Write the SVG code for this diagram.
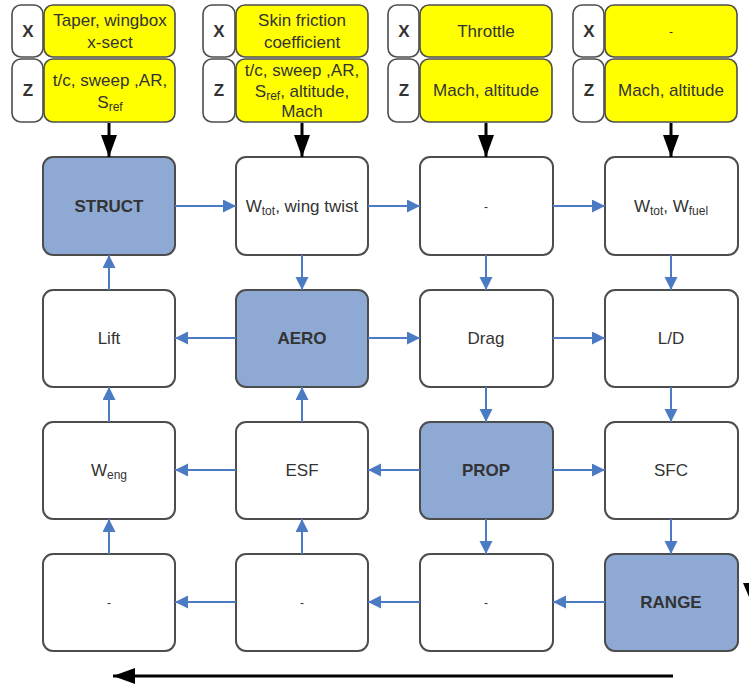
<svg xmlns="http://www.w3.org/2000/svg" width="749" height="686" viewBox="0 0 749 686">
  <style>
    .lbl { fill: #ffffff; stroke: #4d4d4d; stroke-width: 1.6; }
    .inp { fill: #ffff00; stroke: #4d4d4d; stroke-width: 1.6; }
    .blk { fill: #ffffff; stroke: #4d4d4d; stroke-width: 2; }
    .disc { fill: #8eaad4; stroke: #4d4d4d; stroke-width: 2; }
    text { font-family: "Liberation Sans", Arial, Helvetica, sans-serif; font-size: 17px; fill: #333333; text-anchor: middle; }
    .b { font-weight: bold; }
    .sm { font-size: 12px; }
    .cn { stroke: #4b7bc3; stroke-width: 2; fill: none; marker-end: url(#bh); }
    .kn { stroke: #000000; stroke-width: 3; fill: none; marker-end: url(#kh); }
  </style>
  <defs>
    <marker id="bh" markerUnits="userSpaceOnUse" markerWidth="14" markerHeight="14" refX="13" refY="6.5" orient="auto">
      <path d="M0,0 L13,6.5 L0,13 Z" fill="#4b7bc3"/>
    </marker>
    <marker id="kh" markerUnits="userSpaceOnUse" markerWidth="24" markerHeight="18" refX="22" refY="8" orient="auto">
      <path d="M0,0 L22,8 L0,16 Z" fill="#000000"/>
    </marker>
  </defs>

  <!-- input rows (X = design variables, Z = shared variables) -->
  <g id="in-struct">
    <rect class="lbl" x="12" y="5" width="31" height="52" rx="9"/>
    <rect class="inp" x="44" y="5" width="131" height="52" rx="9"/>
    <rect class="lbl" x="12" y="59" width="31" height="63" rx="9"/>
    <rect class="inp" x="44" y="59" width="131" height="63" rx="9"/>
    <text class="b" x="28" y="37">X</text>
    <text class="b" x="28" y="96">Z</text>
    <text x="110" y="26">Taper, wingbox</text>
    <text x="110" y="48">x-sect</text>
    <text x="110" y="86">t/c, sweep ,AR,</text>
    <text x="110" y="108">S<tspan class="sm" dy="3">ref</tspan></text>
  </g>
  <g id="in-aero">
    <rect class="lbl" x="203" y="5" width="32" height="52" rx="9"/>
    <rect class="inp" x="236" y="5" width="132" height="52" rx="9"/>
    <rect class="lbl" x="203" y="59" width="32" height="63" rx="9"/>
    <rect class="inp" x="236" y="59" width="132" height="63" rx="9"/>
    <text class="b" x="219" y="37">X</text>
    <text class="b" x="219" y="96">Z</text>
    <text x="302" y="26">Skin friction</text>
    <text x="302" y="48">coefficient</text>
    <text x="302" y="76">t/c, sweep ,AR,</text>
    <text x="302" y="97">S<tspan class="sm" dy="3">ref</tspan><tspan dy="-3">, altitude,</tspan></text>
    <text x="302" y="117">Mach</text>
  </g>
  <g id="in-prop">
    <rect class="lbl" x="388" y="5" width="31" height="52" rx="9"/>
    <rect class="inp" x="420" y="5" width="132" height="52" rx="9"/>
    <rect class="lbl" x="388" y="59" width="31" height="63" rx="9"/>
    <rect class="inp" x="420" y="59" width="132" height="63" rx="9"/>
    <text class="b" x="404" y="37">X</text>
    <text class="b" x="404" y="96">Z</text>
    <text x="486" y="37">Throttle</text>
    <text x="486" y="96">Mach, altitude</text>
  </g>
  <g id="in-range">
    <rect class="lbl" x="573" y="5" width="31" height="52" rx="9"/>
    <rect class="inp" x="605" y="5" width="132" height="52" rx="9"/>
    <rect class="lbl" x="573" y="59" width="31" height="63" rx="9"/>
    <rect class="inp" x="605" y="59" width="132" height="63" rx="9"/>
    <text class="b" x="589" y="37">X</text>
    <text class="b" x="589" y="96">Z</text>
    <text class="sm" x="671" y="36">-</text>
    <text x="671" y="96">Mach, altitude</text>
  </g>

  <!-- row 1 -->
  <g id="struct"><rect class="disc" x="43" y="157" width="132" height="98" rx="10"/><text class="b" x="109" y="212">STRUCT</text></g>
  <g id="wtot-twist"><rect class="blk" x="236" y="157" width="132" height="98" rx="10"/><text x="302" y="212">W<tspan class="sm" dy="3">tot</tspan><tspan dy="-3">, wing twist</tspan></text></g>
  <g id="r1c3"><rect class="blk" x="420" y="157" width="133" height="98" rx="10"/><text class="sm" x="486" y="211">-</text></g>
  <g id="wtot-wfuel"><rect class="blk" x="605" y="157" width="133" height="98" rx="10"/><text x="671" y="212">W<tspan class="sm" dy="3">tot</tspan><tspan dy="-3">, W</tspan><tspan class="sm" dy="3">fuel</tspan></text></g>

  <!-- row 2 -->
  <g id="lift"><rect class="blk" x="43" y="290" width="132" height="97" rx="10"/><text x="109" y="344">Lift</text></g>
  <g id="aero"><rect class="disc" x="236" y="290" width="132" height="97" rx="10"/><text class="b" x="302" y="344">AERO</text></g>
  <g id="drag"><rect class="blk" x="420" y="290" width="133" height="97" rx="10"/><text x="486" y="344">Drag</text></g>
  <g id="ld"><rect class="blk" x="605" y="290" width="133" height="97" rx="10"/><text x="671" y="344">L/D</text></g>

  <!-- row 3 -->
  <g id="weng"><rect class="blk" x="43" y="422" width="132" height="97" rx="10"/><text x="109" y="476">W<tspan class="sm" dy="3">eng</tspan></text></g>
  <g id="esf"><rect class="blk" x="236" y="422" width="132" height="97" rx="10"/><text x="302" y="476">ESF</text></g>
  <g id="prop"><rect class="disc" x="420" y="422" width="133" height="97" rx="10"/><text class="b" x="486" y="476">PROP</text></g>
  <g id="sfc"><rect class="blk" x="605" y="422" width="133" height="97" rx="10"/><text x="671" y="476">SFC</text></g>

  <!-- row 4 -->
  <g id="r4c1"><rect class="blk" x="43" y="554" width="132" height="97" rx="10"/><text class="sm" x="109" y="607">-</text></g>
  <g id="r4c2"><rect class="blk" x="236" y="554" width="132" height="97" rx="10"/><text class="sm" x="302" y="607">-</text></g>
  <g id="r4c3"><rect class="blk" x="420" y="554" width="133" height="97" rx="10"/><text class="sm" x="486" y="607">-</text></g>
  <g id="range"><rect class="disc" x="605" y="554" width="133" height="97" rx="10"/><text class="b" x="671" y="608">RANGE</text></g>

  <!-- connectors -->
  <g id="connectors">
    <!-- inputs into each discipline column -->
    <line class="kn" x1="109" y1="123" x2="109" y2="157"/>
    <line class="kn" x1="302" y1="123" x2="302" y2="157"/>
    <line class="kn" x1="486" y1="123" x2="486" y2="157"/>
    <line class="kn" x1="671" y1="123" x2="671" y2="157"/>

    <!-- row 1 -->
    <line class="cn" x1="175" y1="206" x2="236" y2="206"/>
    <line class="cn" x1="368" y1="206" x2="420" y2="206"/>
    <line class="cn" x1="553" y1="206" x2="605" y2="206"/>
    <!-- row 1 to row 2 -->
    <line class="cn" x1="109" y1="290" x2="109" y2="255"/>
    <line class="cn" x1="302" y1="255" x2="302" y2="290"/>
    <line class="cn" x1="486" y1="255" x2="486" y2="290"/>
    <line class="cn" x1="671" y1="255" x2="671" y2="290"/>
    <!-- row 2 -->
    <line class="cn" x1="236" y1="338" x2="175" y2="338"/>
    <line class="cn" x1="368" y1="338" x2="420" y2="338"/>
    <line class="cn" x1="553" y1="338" x2="605" y2="338"/>
    <!-- row 2 to row 3 -->
    <line class="cn" x1="109" y1="422" x2="109" y2="387"/>
    <line class="cn" x1="302" y1="422" x2="302" y2="387"/>
    <line class="cn" x1="486" y1="387" x2="486" y2="422"/>
    <line class="cn" x1="671" y1="387" x2="671" y2="422"/>
    <!-- row 3 -->
    <line class="cn" x1="236" y1="470" x2="175" y2="470"/>
    <line class="cn" x1="420" y1="470" x2="368" y2="470"/>
    <line class="cn" x1="553" y1="470" x2="605" y2="470"/>
    <!-- row 3 to row 4 -->
    <line class="cn" x1="109" y1="554" x2="109" y2="519"/>
    <line class="cn" x1="302" y1="554" x2="302" y2="519"/>
    <line class="cn" x1="486" y1="519" x2="486" y2="554"/>
    <line class="cn" x1="671" y1="519" x2="671" y2="554"/>
    <!-- row 4 -->
    <line class="cn" x1="236" y1="602" x2="175" y2="602"/>
    <line class="cn" x1="420" y1="602" x2="368" y2="602"/>
    <line class="cn" x1="605" y1="602" x2="553" y2="602"/>

    <!-- overall flow arrows -->
    <line class="kn" x1="673" y1="676" x2="113" y2="676"/>
    <polygon points="743,583 762,583 752,604" fill="#000000"/>
  </g>
</svg>
